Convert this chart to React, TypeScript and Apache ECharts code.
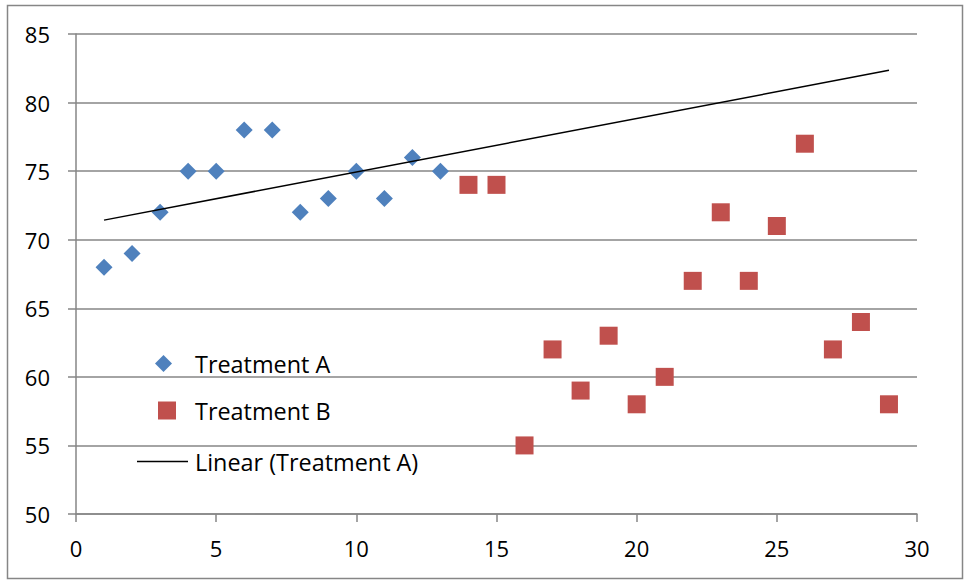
import React, { useEffect, useRef } from "react";
import * as echarts from "echarts";

const xA = [1, 2, 3, 4, 5, 6, 7, 8, 9, 10, 11, 12, 13];
const yA = [68, 69, 72, 75, 75, 78, 78, 72, 73, 75, 73, 76, 75];
const xB = [14, 15, 16, 17, 18, 19, 20, 21, 22, 23, 24, 25, 26, 27, 28, 29];
const yB = [74, 74, 55, 62, 59, 63, 58, 60, 67, 72, 67, 71, 77, 62, 64, 58];
const trendRange = [1, 29];

function linearFit(xs: number[], ys: number[]) {
  const n = xs.length;
  const mx = xs.reduce((a, b) => a + b, 0) / n;
  const my = ys.reduce((a, b) => a + b, 0) / n;
  let sxy = 0;
  let sxx = 0;
  for (let i = 0; i < n; i++) {
    sxy += (xs[i] - mx) * (ys[i] - my);
    sxx += (xs[i] - mx) * (xs[i] - mx);
  }
  const slope = sxy / sxx;
  return { slope, intercept: my - slope * mx };
}

const FONT = "'Open Sans', 'Noto Sans', sans-serif";
const FS = 22;
const LEGEND_FS = 23.4;

export default function App() {
  const ref = useRef<HTMLDivElement>(null);
  useEffect(() => {
    if (!ref.current) return;
    const chart = echarts.init(ref.current, undefined, { renderer: "svg" });
    const fit = linearFit(xA, yA);
    const trend = trendRange.map((x) => [x, fit.intercept + fit.slope * x]);
    const legendText = { fontFamily: FONT, fontSize: LEGEND_FS, color: "#000" };
    chart.setOption({
      animation: false,
      backgroundColor: "#fff",
      graphic: [
        {
          type: "rect",
          shape: { x: 7.5, y: 5.5, width: 955, height: 573 },
          style: { fill: "none", stroke: "#868686", lineWidth: 1.5 },
          silent: true,
        },
      ],
      grid: { left: 76, right: 49, top: 34, bottom: 67, containLabel: false },
      xAxis: {
        type: "value",
        min: 0,
        max: 30,
        interval: 5,
        axisLine: { show: true, lineStyle: { color: "#868686", width: 1.5 } },
        axisTick: { show: true, length: 8, lineStyle: { color: "#868686", width: 1.5 } },
        axisLabel: { fontFamily: FONT, fontSize: FS, color: "#000", margin: 23 },
        splitLine: { show: false },
      },
      yAxis: {
        type: "value",
        min: 50,
        max: 85,
        interval: 5,
        axisLine: { show: true, lineStyle: { color: "#868686", width: 1.5 } },
        axisTick: { show: true, length: 8, lineStyle: { color: "#868686", width: 1.5 } },
        axisLabel: { fontFamily: FONT, fontSize: FS, color: "#000", margin: 26 },
        splitLine: { show: true, lineStyle: { color: "#868686", width: 1.5 } },
      },
      legend: [
        {
          data: [{ name: "Treatment A", icon: "diamond" }],
          left: 155,
          top: 352,
          padding: 0,
          itemWidth: 17,
          itemHeight: 17,
          textStyle: { ...legendText, padding: [0, 0, 0, 18] },
        },
        {
          data: [{ name: "Treatment B", icon: "rect" }],
          left: 158,
          top: 399,
          padding: 0,
          itemWidth: 18,
          itemHeight: 18,
          textStyle: { ...legendText, padding: [0, 0, 0, 14] },
        },
        {
          data: [{ name: "Linear (Treatment A)", icon: "rect" }],
          left: 137,
          top: 450,
          padding: 0,
          itemWidth: 51,
          itemHeight: 1.5,
          itemStyle: { color: "#000" },
          textStyle: { ...legendText, padding: [0, 0, 0, 2] },
        },
      ],
      series: [
        {
          name: "Treatment A",
          type: "scatter",
          symbol: "diamond",
          symbolSize: 17,
          itemStyle: { color: "#4F81BD", opacity: 1 },
          data: xA.map((x, i) => [x, yA[i]]),
          z: 3,
        },
        {
          name: "Treatment B",
          type: "scatter",
          symbol: "rect",
          symbolSize: 18,
          itemStyle: { color: "#C0504D", opacity: 1 },
          data: xB.map((x, i) => [x, yB[i]]),
          z: 3,
        },
        {
          name: "Linear (Treatment A)",
          type: "line",
          showSymbol: false,
          symbol: "none",
          lineStyle: { color: "#000", width: 1.5 },
          itemStyle: { color: "#000" },
          data: trend,
          z: 4,
        },
      ],
    });
    return () => chart.dispose();
  }, []);
  return <div ref={ref} style={{ width: 966, height: 581, position: "absolute", left: 0, top: 0 }} />;
}
